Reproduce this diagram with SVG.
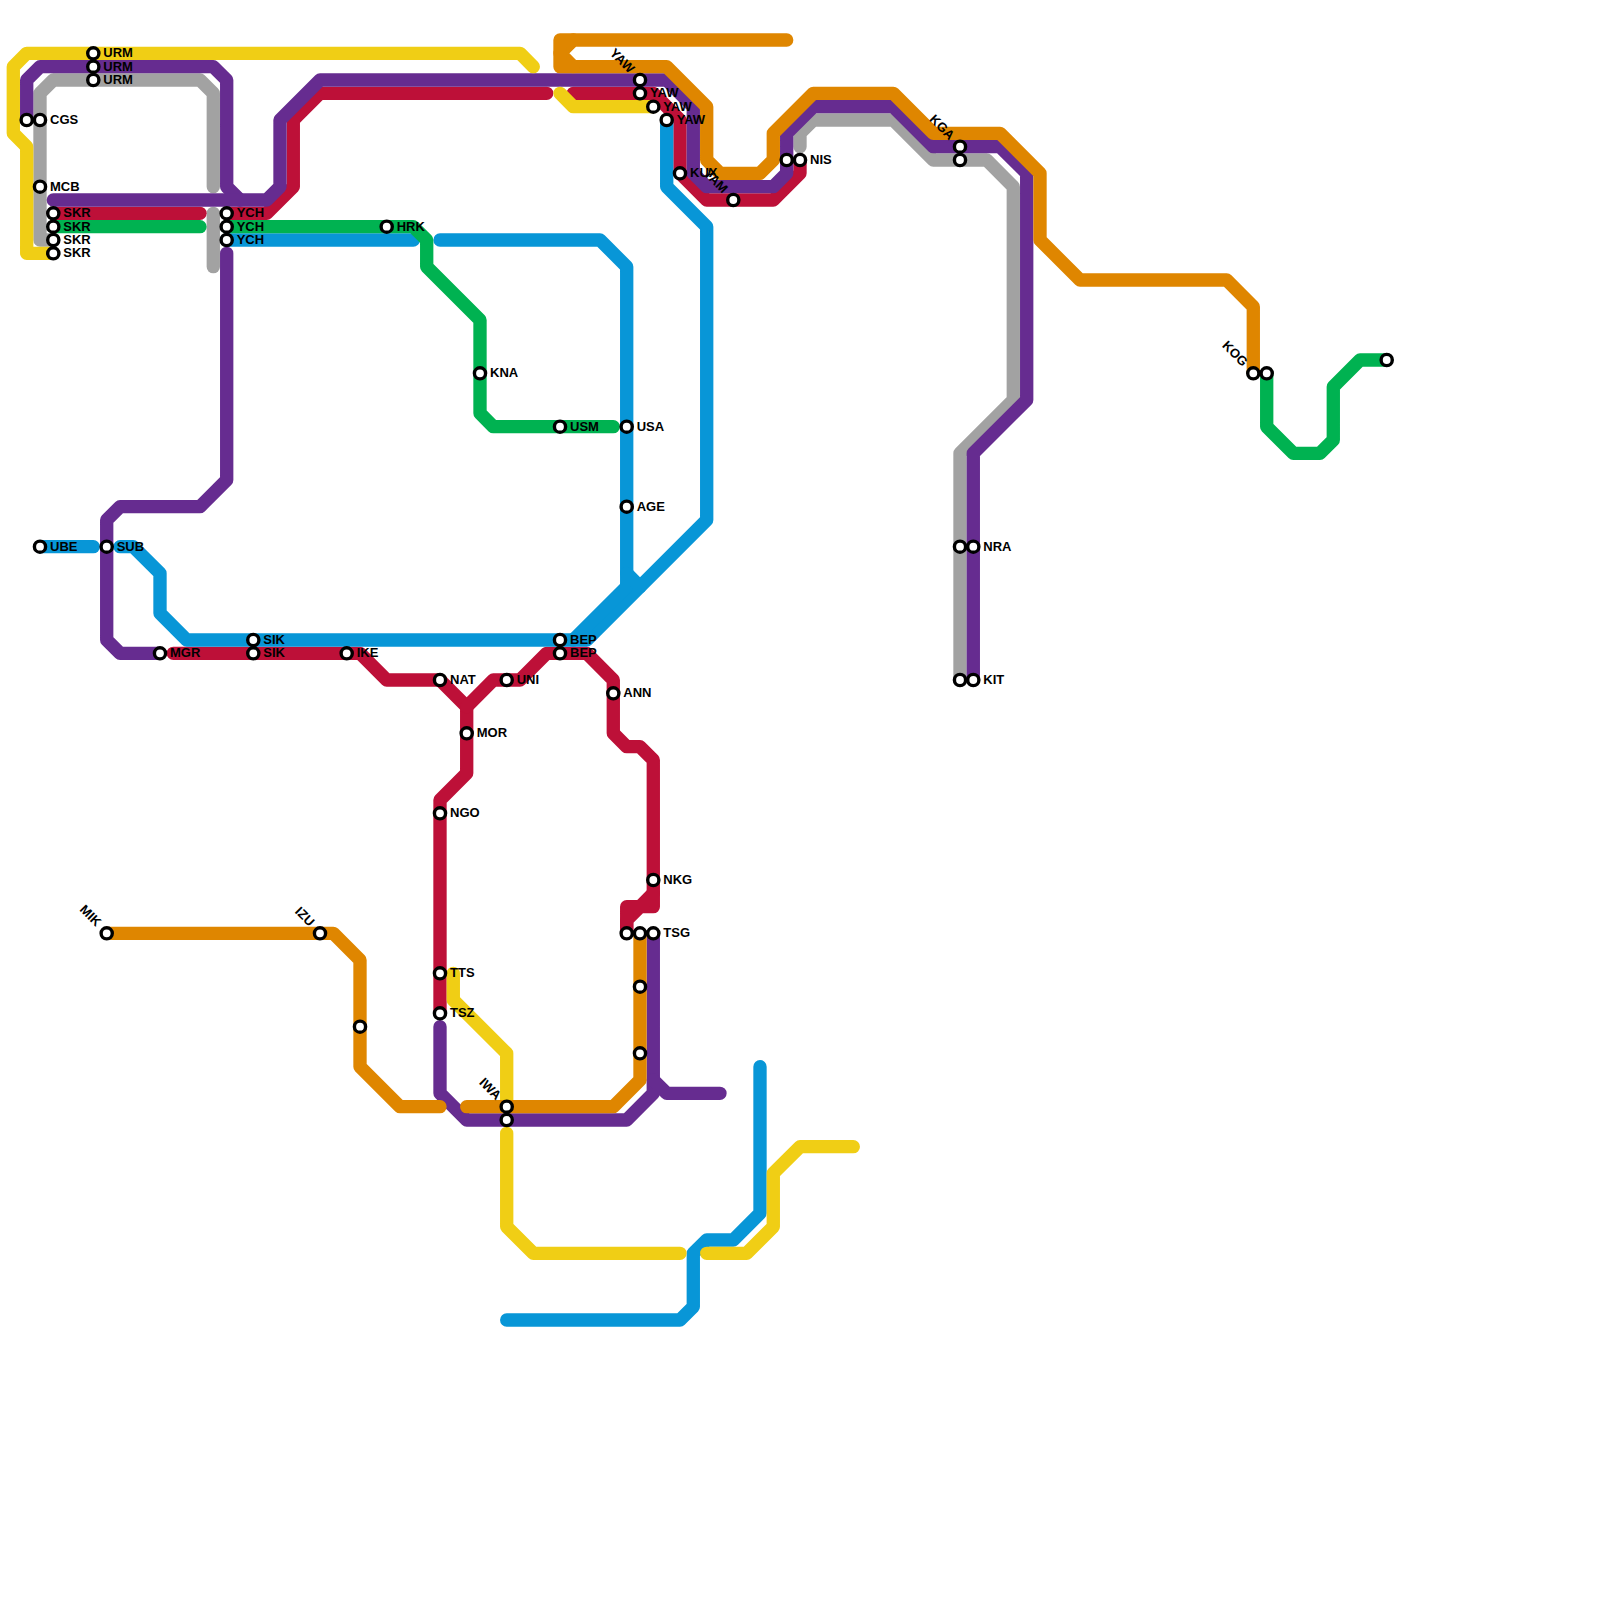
<svg xmlns="http://www.w3.org/2000/svg" width="1600" height="1600" viewBox="0 0 1600 1600">
<style>
.l{fill:none;stroke-width:13.33;stroke-linecap:round;stroke-linejoin:round}
.gy{stroke:#a2a2a2}.rd{stroke:#bd1038}.pu{stroke:#662c90}.bl{stroke:#0896d7}.gr{stroke:#00b251}.ye{stroke:#f0ce15}.or{stroke:#df8600}
circle{fill:#fff;stroke:#000;stroke-width:3.4}
text{font-family:"Liberation Sans",Arial,sans-serif;font-size:13px;font-weight:700;fill:#000}
</style>
<rect width="1600" height="1600" fill="#fff"/>
<g id="connectors">
<polyline class="l gy" points="53.3,240 40,240 40,93.3 53.3,80 200,80 213.3,93.3 213.3,186.7"/>
<polyline class="l gy" points="213.3,213.3 213.3,266.7"/>
<polyline class="l gy" points="800,146.7 800,133.3 813.3,120 893.3,120 933.3,160 986.7,160 1013.3,186.7 1013.3,400 960,453.3 960,680"/>
<polyline class="l rd" points="53.3,213.3 200,213.3"/>
<polyline class="l rd" points="226.7,213.3 266.7,213.3 293.3,186.7 293.3,120 320,93.3 546.7,93.3"/>
<polyline class="l rd" points="573.3,93.3 653.3,93.3 680,120 680,173.3 706.7,200 773.3,200 800,173.3 800,160"/>
<polyline class="l rd" points="173.3,653.3 360,653.3 386.7,680 440,680 466.7,706.7 466.7,773.3 440,800 440,1013.3"/>
<polyline class="l rd" points="466.7,706.7 493.3,680 520,680 546.7,653.3 586.7,653.3 613.3,680 613.3,733.3 626.7,746.7 640,746.7 653.3,760 653.3,906.7 640,906.7 626.7,920 626.7,933.3"/>
<polyline class="l rd" points="626.7,933.3 626.7,906.7 640,906.7 653.3,893.3"/>
<polyline class="l pu" points="26.7,120 26.7,80 40,66.7 213.3,66.7 226.7,80 226.7,186.7 240,200"/>
<polyline class="l pu" points="53.3,200 266.7,200 280,186.7 280,120 320,80 666.7,80 693.3,106.7 693.3,173.3 706.7,186.7 773.3,186.7 786.7,173.3 786.7,133.3 813.3,106.7 893.3,106.7 933.3,146.7 1000,146.7 1026.7,173.3 1026.7,400 973.3,453.3 973.3,680"/>
<polyline class="l pu" points="226.7,253.3 226.7,480 200,506.7 120,506.7 106.7,520 106.7,640 120,653.3 160,653.3"/>
<polyline class="l pu" points="440,1026.7 440,1093.3 466.7,1120 626.7,1120 653.3,1093.3 653.3,933.3"/>
<polyline class="l pu" points="653.3,1080 666.7,1093.3 720,1093.3"/>
<polyline class="l bl" points="40,546.7 93.3,546.7"/>
<polyline class="l bl" points="120,546.7 133.3,546.7 160,573.3 160,613.3 186.7,640 586.7,640 706.7,520 706.7,226.7 666.7,186.7 666.7,120"/>
<polyline class="l bl" points="226.7,240 413.3,240"/>
<polyline class="l bl" points="440,240 600,240 626.7,266.7 626.7,586.7 573.3,640"/>
<polyline class="l bl" points="626.7,573.3 640,586.7"/>
<polyline class="l bl" points="506.7,1320 680,1320 693.3,1306.7 693.3,1253.3 706.7,1240 733.3,1240 760,1213.3 760,1066.7"/>
<polyline class="l gr" points="53.3,226.7 200,226.7"/>
<polyline class="l gr" points="226.7,226.7 413.3,226.7 426.7,240 426.7,266.7 480,320 480,413.3 493.3,426.7 613.3,426.7"/>
<polyline class="l gr" points="1266.7,373.3 1266.7,426.7 1293.3,453.3 1320,453.3 1333.3,440 1333.3,386.7 1360,360 1386.7,360"/>
<polyline class="l ye" points="533.3,66.7 520,53.3 26.7,53.3 13.3,66.7 13.3,133.3 26.7,146.7 26.7,253.3 53.3,253.3"/>
<polyline class="l ye" points="560,93.3 573.3,106.7 653.3,106.7"/>
<polyline class="l ye" points="453.3,973.3 453.3,1000 506.7,1053.3 506.7,1106.7"/>
<polyline class="l ye" points="506.7,1133.3 506.7,1226.7 533.3,1253.3 680,1253.3"/>
<polyline class="l ye" points="706.7,1253.3 746.7,1253.3 773.3,1226.7 773.3,1173.3 800,1146.7 853.3,1146.7"/>
<polyline class="l or" points="786.7,40 573.3,40 560,53.3 573.3,66.7 666.7,66.7 706.7,106.7 706.7,160 720,173.3 760,173.3 773.3,160 773.3,133.3 813.3,93.3 893.3,93.3 933.3,133.3 1000,133.3 1040,173.3 1040,240 1080,280 1226.7,280 1253.3,306.7 1253.3,373.3"/>
<polyline class="l or" points="573.3,40 560,40 560,66.7 573.3,66.7"/>
<polyline class="l or" points="106.7,933.3 333.3,933.3 360,960 360,1066.7 400,1106.7 440,1106.7"/>
<polyline class="l or" points="466.7,1106.7 613.3,1106.7 640,1080 640,933.3"/>
</g>
<g id="urm1"><circle cx="93.3" cy="53.3" r="5.6"/><text x="103.3" y="57.1">URM</text></g>
<g id="urm2"><circle cx="93.3" cy="66.7" r="5.6"/><text x="103.3" y="70.5">URM</text></g>
<g id="urm3"><circle cx="93.3" cy="80" r="5.6"/><text x="103.3" y="83.8">URM</text></g>
<g id="cgs1"><circle cx="26.7" cy="120" r="5.6"/></g>
<g id="cgs2"><circle cx="40" cy="120" r="5.6"/><text x="50" y="123.8">CGS</text></g>
<g id="mcb"><circle cx="40" cy="186.7" r="5.6"/><text x="50" y="190.5">MCB</text></g>
<g id="skr1"><circle cx="53.3" cy="213.3" r="5.6"/><text x="63.3" y="217.1">SKR</text></g>
<g id="skr2"><circle cx="53.3" cy="226.7" r="5.6"/><text x="63.3" y="230.5">SKR</text></g>
<g id="skr3"><circle cx="53.3" cy="240" r="5.6"/><text x="63.3" y="243.8">SKR</text></g>
<g id="skr4"><circle cx="53.3" cy="253.3" r="5.6"/><text x="63.3" y="257.1">SKR</text></g>
<g id="ych1"><circle cx="226.7" cy="213.3" r="5.6"/><text x="236.7" y="217.1">YCH</text></g>
<g id="ych2"><circle cx="226.7" cy="226.7" r="5.6"/><text x="236.7" y="230.5">YCH</text></g>
<g id="ych3"><circle cx="226.7" cy="240" r="5.6"/><text x="236.7" y="243.8">YCH</text></g>
<g id="hrk"><circle cx="386.7" cy="226.7" r="5.6"/><text x="396.7" y="230.5">HRK</text></g>
<g id="kna"><circle cx="480" cy="373.3" r="5.6"/><text x="490" y="377.1">KNA</text></g>
<g id="usm"><circle cx="560" cy="426.7" r="5.6"/><text x="570" y="430.5">USM</text></g>
<g id="usa"><circle cx="626.7" cy="426.7" r="5.6"/><text x="636.7" y="430.5">USA</text></g>
<g id="age"><circle cx="626.7" cy="506.7" r="5.6"/><text x="636.7" y="510.5">AGE</text></g>
<g id="ube"><circle cx="40" cy="546.7" r="5.6"/><text x="50" y="550.5">UBE</text></g>
<g id="sub"><circle cx="106.7" cy="546.7" r="5.6"/><text x="116.7" y="550.5">SUB</text></g>
<g id="mgr"><circle cx="160" cy="653.3" r="5.6"/><text x="170" y="657.1">MGR</text></g>
<g id="sik1"><circle cx="253.3" cy="640" r="5.6"/><text x="263.3" y="643.8">SIK</text></g>
<g id="sik2"><circle cx="253.3" cy="653.3" r="5.6"/><text x="263.3" y="657.1">SIK</text></g>
<g id="ike"><circle cx="346.7" cy="653.3" r="5.6"/><text x="356.7" y="657.1">IKE</text></g>
<g id="nat"><circle cx="440" cy="680" r="5.6"/><text x="450" y="683.8">NAT</text></g>
<g id="uni"><circle cx="506.7" cy="680" r="5.6"/><text x="516.7" y="683.8">UNI</text></g>
<g id="bep1"><circle cx="560" cy="640" r="5.6"/><text x="570" y="643.8">BEP</text></g>
<g id="bep2"><circle cx="560" cy="653.3" r="5.6"/><text x="570" y="657.1">BEP</text></g>
<g id="ann"><circle cx="613.3" cy="693.3" r="5.6"/><text x="623.3" y="697.1">ANN</text></g>
<g id="mor"><circle cx="466.7" cy="733.3" r="5.6"/><text x="476.7" y="737.1">MOR</text></g>
<g id="ngo"><circle cx="440" cy="813.3" r="5.6"/><text x="450" y="817.1">NGO</text></g>
<g id="nkg"><circle cx="653.3" cy="880" r="5.6"/><text x="663.3" y="883.8">NKG</text></g>
<g id="tsg1"><circle cx="626.7" cy="933.3" r="5.6"/></g>
<g id="tsg2"><circle cx="640" cy="933.3" r="5.6"/></g>
<g id="tsg3"><circle cx="653.3" cy="933.3" r="5.6"/><text x="663.3" y="937.1">TSG</text></g>
<g id="st-or1"><circle cx="640" cy="986.7" r="5.6"/></g>
<g id="st-or2"><circle cx="640" cy="1053.3" r="5.6"/></g>
<g id="tts"><circle cx="440" cy="973.3" r="5.6"/><text x="450" y="977.1">TTS</text></g>
<g id="tsz"><circle cx="440" cy="1013.3" r="5.6"/><text x="450" y="1017.1">TSZ</text></g>
<g id="iwa1"><circle cx="506.7" cy="1106.7" r="5.6"/><text transform="translate(498.7,1097.7) rotate(45)" text-anchor="end" y="4">IWA</text></g>
<g id="iwa2"><circle cx="506.7" cy="1120" r="5.6"/></g>
<g id="mik"><circle cx="106.7" cy="933.3" r="5.6"/><text transform="translate(98.7,924.3) rotate(45)" text-anchor="end" y="4">MIK</text></g>
<g id="izu"><circle cx="320" cy="933.3" r="5.6"/><text transform="translate(312,924.3) rotate(45)" text-anchor="end" y="4">IZU</text></g>
<g id="st-or3"><circle cx="360" cy="1026.7" r="5.6"/></g>
<g id="yaw1"><circle cx="640" cy="80" r="5.6"/><text transform="translate(632,71) rotate(45)" text-anchor="end" y="4">YAW</text></g>
<g id="yaw2"><circle cx="640" cy="93.3" r="5.6"/><text x="650" y="97.1">YAW</text></g>
<g id="yaw3"><circle cx="653.3" cy="106.7" r="5.6"/><text x="663.3" y="110.5">YAW</text></g>
<g id="yaw4"><circle cx="666.7" cy="120" r="5.6"/><text x="676.7" y="123.8">YAW</text></g>
<g id="kux"><circle cx="680" cy="173.3" r="5.6"/><text x="690" y="177.1">KUX</text></g>
<g id="yam"><circle cx="733.3" cy="200" r="5.6"/><text transform="translate(725.3,191) rotate(45)" text-anchor="end" y="4">YAM</text></g>
<g id="nis1"><circle cx="786.7" cy="160" r="5.6"/></g>
<g id="nis2"><circle cx="800" cy="160" r="5.6"/><text x="810" y="163.8">NIS</text></g>
<g id="kga1"><circle cx="960" cy="146.7" r="5.6"/><text transform="translate(952,137.7) rotate(45)" text-anchor="end" y="4">KGA</text></g>
<g id="kga2"><circle cx="960" cy="160" r="5.6"/></g>
<g id="nra1"><circle cx="960" cy="546.7" r="5.6"/></g>
<g id="nra2"><circle cx="973.3" cy="546.7" r="5.6"/><text x="983.3" y="550.5">NRA</text></g>
<g id="kit1"><circle cx="960" cy="680" r="5.6"/></g>
<g id="kit2"><circle cx="973.3" cy="680" r="5.6"/><text x="983.3" y="683.8">KIT</text></g>
<g id="kog1"><circle cx="1253.3" cy="373.3" r="5.6"/><text transform="translate(1245.3,364.3) rotate(45)" text-anchor="end" y="4">KOG</text></g>
<g id="kog2"><circle cx="1266.7" cy="373.3" r="5.6"/></g>
<g id="st-gr"><circle cx="1386.7" cy="360" r="5.6"/></g>
</svg>
